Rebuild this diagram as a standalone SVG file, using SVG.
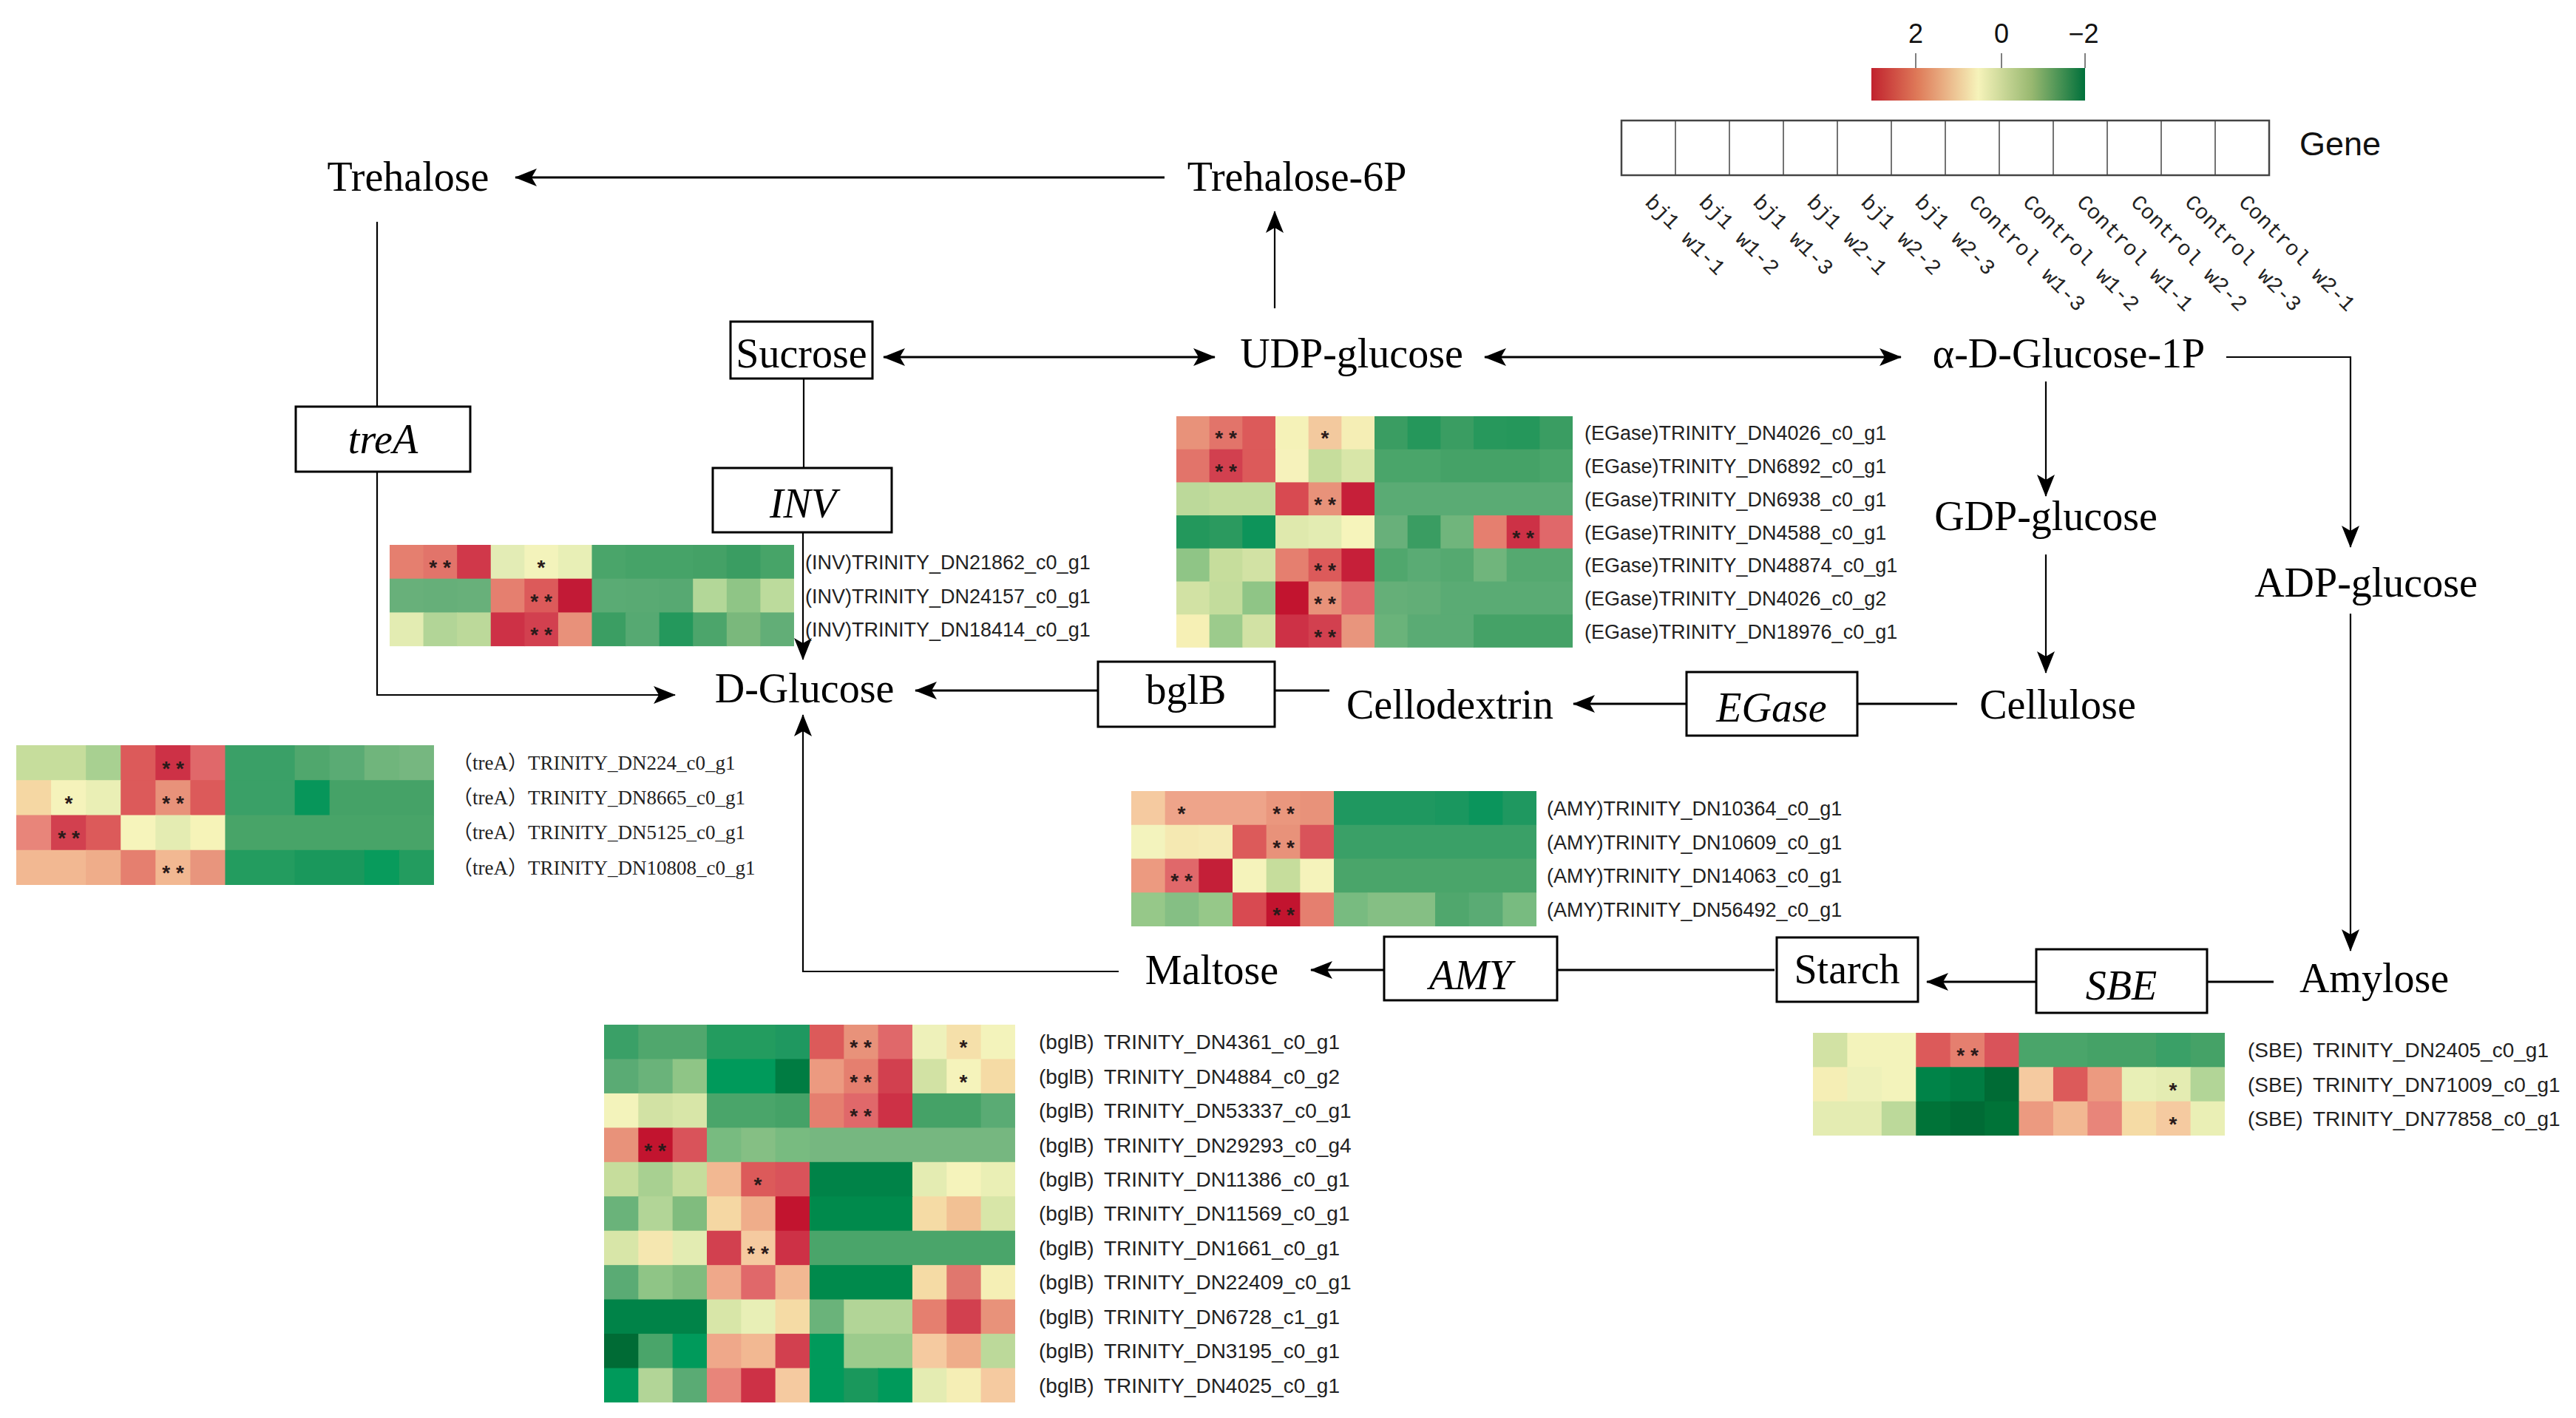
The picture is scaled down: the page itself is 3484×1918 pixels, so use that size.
<svg xmlns="http://www.w3.org/2000/svg" width="3484" height="1918" viewBox="0 0 3484 1918">
<defs>
<style>
.node{font-family:'Liberation Serif','Times New Roman',serif;font-size:56px;fill:#000;text-anchor:middle}
.it{font-style:italic}
.box{fill:#fff;stroke:#000;stroke-width:3}
.lbl{font-family:'Liberation Sans',Arial,sans-serif;font-size:27px;fill:#222}
.lbl28{font-family:'Liberation Sans',Arial,sans-serif;font-size:28px;fill:#222;word-spacing:6px}
.lbls{font-family:'Liberation Serif','Noto Sans CJK SC',serif;font-size:27px;fill:#222}
.st{font-family:'Liberation Sans',Arial,sans-serif;font-size:28px;font-weight:bold;fill:#2a1a1a;text-anchor:middle}
.ln{fill:none;stroke:#000;stroke-width:3}
.lv{fill:none;stroke:#000;stroke-width:2.2}
.mono{font-family:'Liberation Mono','DejaVu Sans Mono',monospace;font-size:29px;fill:#222}
.tick{font-family:'Liberation Sans',Arial,sans-serif;font-size:36px;fill:#111;text-anchor:middle}
</style>
<marker id="ah" viewBox="0 0 30 24" refX="29" refY="12" markerWidth="30" markerHeight="24" markerUnits="userSpaceOnUse" orient="auto-start-reverse"><path d="M0,0 L30,12 L0,24 L7,12 Z" fill="#000"/></marker>
<linearGradient id="cb" x1="0" x2="1" y1="0" y2="0">
<stop offset="0" stop-color="#c1222e"/>
<stop offset="0.22" stop-color="#df7c5a"/>
<stop offset="0.5" stop-color="#f6f3ba"/>
<stop offset="0.75" stop-color="#98b870"/>
<stop offset="1" stop-color="#00703b"/>
</linearGradient>
</defs>
<rect width="3484" height="1918" fill="#fff"/>

<g id="connectors">
<line class="ln" x1="1575" y1="240" x2="697" y2="240" marker-end="url(#ah)"/>
<line class="lv" x1="1724" y1="417" x2="1724" y2="286" marker-end="url(#ah)"/>
<line class="ln" x1="1195" y1="483" x2="1643" y2="483" marker-start="url(#ah)" marker-end="url(#ah)"/>
<line class="ln" x1="2008" y1="483" x2="2571" y2="483" marker-start="url(#ah)" marker-end="url(#ah)"/>
<polyline class="lv" points="3011,483 3179,483 3179,740" marker-end="url(#ah)"/>
<line class="lv" x1="3179" y1="830" x2="3179" y2="1286" marker-end="url(#ah)"/>
<line class="lv" x1="2767" y1="516" x2="2767" y2="671" marker-end="url(#ah)"/>
<line class="lv" x1="2767" y1="750" x2="2767" y2="910" marker-end="url(#ah)"/>
<polyline class="lv" points="510,300 510,940 913,940" marker-end="url(#ah)"/>
<line class="lv" x1="1087" y1="512" x2="1087" y2="634"/>
<line class="lv" x1="1086" y1="720" x2="1086" y2="892" marker-end="url(#ah)"/>
<polyline class="lv" points="1513,1314 1086,1314 1086,967" marker-end="url(#ah)"/>
<line class="ln" x1="1485" y1="934" x2="1238" y2="934" marker-end="url(#ah)"/>
<line class="ln" x1="1798" y1="934" x2="1724" y2="934"/>
<line class="ln" x1="2281" y1="952" x2="2128" y2="952" marker-end="url(#ah)"/>
<line class="ln" x1="2647" y1="952" x2="2512" y2="952"/>
<line class="ln" x1="3075" y1="1328" x2="2985" y2="1328"/>
<line class="ln" x1="2754" y1="1328" x2="2606" y2="1328" marker-end="url(#ah)"/>
<line class="ln" x1="2400" y1="1312" x2="2106" y2="1312"/>
<line class="ln" x1="1872" y1="1312" x2="1773" y2="1312" marker-end="url(#ah)"/>
</g>

<g id="n-trehalose"><text class="node" x="552" y="258">Trehalose</text></g>
<g id="n-trehalose6p"><text class="node" x="1754" y="258">Trehalose-6P</text></g>
<g id="n-sucrose"><rect class="box" x="988" y="435" width="192" height="77"/><text class="node" x="1084" y="497">Sucrose</text></g>
<g id="n-udpglucose"><text class="node" x="1828" y="497">UDP-glucose</text></g>
<g id="n-glucose1p"><text class="node" x="2798" y="497">α-D-Glucose-1P</text></g>
<g id="n-gdpglucose"><text class="node" x="2767" y="717">GDP-glucose</text></g>
<g id="n-adpglucose"><text class="node" x="3200" y="807">ADP-glucose</text></g>
<g id="n-cellulose"><text class="node" x="2783" y="972">Cellulose</text></g>
<g id="n-cellodextrin"><text class="node" x="1961" y="972">Cellodextrin</text></g>
<g id="n-dglucose"><text class="node" x="1088" y="950">D-Glucose</text></g>
<g id="n-maltose"><text class="node" x="1639" y="1331">Maltose</text></g>
<g id="n-amylose"><text class="node" x="3211" y="1342">Amylose</text></g>
<g id="n-starch"><rect class="box" x="2403" y="1268" width="191" height="87"/><text class="node" x="2498" y="1330">Starch</text></g>
<g id="n-trea"><rect class="box" x="400" y="550" width="236" height="88"/><text class="node it" x="518" y="613">treA</text></g>
<g id="n-inv"><rect class="box" x="964" y="633" width="242" height="87"/><text class="node it" x="1086" y="700">INV</text></g>
<g id="n-bglb"><rect class="box" x="1485" y="895" width="239" height="88"/><text class="node" x="1604" y="952">bglB</text></g>
<g id="n-egase"><rect class="box" x="2281" y="909" width="231" height="86"/><text class="node it" x="2396" y="976">EGase</text></g>
<g id="n-amy"><rect class="box" x="1872" y="1267" width="234" height="86"/><text class="node it" x="1989" y="1338">AMY</text></g>
<g id="n-sbe"><rect class="box" x="2754" y="1284" width="231" height="86"/><text class="node it" x="2869" y="1352">SBE</text></g>

<g id="legend">
<rect x="2531" y="92" width="289" height="44" fill="url(#cb)"/>
<line x1="2591" y1="72" x2="2591" y2="92" stroke="#555" stroke-width="1.5"/>
<line x1="2707" y1="72" x2="2707" y2="92" stroke="#555" stroke-width="1.5"/>
<line x1="2820" y1="72" x2="2820" y2="92" stroke="#555" stroke-width="1.5"/>
<text class="tick" x="2591" y="58">2</text>
<text class="tick" x="2707" y="58">0</text>
<text class="tick" x="2818" y="58">−2</text>
<rect x="2193" y="163" width="876" height="74" fill="#fff" stroke="#444" stroke-width="2.5"/>
<g stroke="#444" stroke-width="1.5">
<line x1="2266" y1="163" x2="2266" y2="237"/><line x1="2339" y1="163" x2="2339" y2="237"/><line x1="2412" y1="163" x2="2412" y2="237"/><line x1="2485" y1="163" x2="2485" y2="237"/><line x1="2558" y1="163" x2="2558" y2="237"/><line x1="2631" y1="163" x2="2631" y2="237"/><line x1="2704" y1="163" x2="2704" y2="237"/><line x1="2777" y1="163" x2="2777" y2="237"/><line x1="2850" y1="163" x2="2850" y2="237"/><line x1="2923" y1="163" x2="2923" y2="237"/><line x1="2996" y1="163" x2="2996" y2="237"/>
</g>
<text x="3110" y="210" font-family="'Liberation Sans',Arial,sans-serif" font-size="45" fill="#111">Gene</text>
<text class="mono" transform="translate(2223.5,275) rotate(45)">bj1 w1-1</text>
<text class="mono" transform="translate(2296.5,275) rotate(45)">bj1 w1-2</text>
<text class="mono" transform="translate(2369.5,275) rotate(45)">bj1 w1-3</text>
<text class="mono" transform="translate(2442.5,275) rotate(45)">bj1 w2-1</text>
<text class="mono" transform="translate(2515.5,275) rotate(45)">bj1 w2-2</text>
<text class="mono" transform="translate(2588.5,275) rotate(45)">bj1 w2-3</text>
<text class="mono" transform="translate(2661.5,275) rotate(45)">Control w1-3</text>
<text class="mono" transform="translate(2734.5,275) rotate(45)">Control w1-2</text>
<text class="mono" transform="translate(2807.5,275) rotate(45)">Control w1-1</text>
<text class="mono" transform="translate(2880.5,275) rotate(45)">Control w2-2</text>
<text class="mono" transform="translate(2953.5,275) rotate(45)">Control w2-3</text>
<text class="mono" transform="translate(3026.5,275) rotate(45)">Control w2-1</text>
</g>

<g id="hm-inv">
<g transform="translate(527,737) scale(45.58,45.7)">
<rect x="0" y="0" width="1.02" height="1.02" fill="#e57f6f"/><rect x="1" y="0" width="1.02" height="1.02" fill="#e2746a"/><rect x="2" y="0" width="1.02" height="1.02" fill="#d0384a"/><rect x="3" y="0" width="1.02" height="1.02" fill="#e3ecb5"/><rect x="4" y="0" width="1.02" height="1.02" fill="#f3f3bb"/><rect x="5" y="0" width="1.02" height="1.02" fill="#e8efb6"/><rect x="6" y="0" width="1.02" height="1.02" fill="#4aa56a"/><rect x="7" y="0" width="2.02" height="1.02" fill="#46a368"/><rect x="9" y="0" width="1.02" height="1.02" fill="#44a166"/><rect x="10" y="0" width="1.02" height="1.02" fill="#3a9d62"/><rect x="11" y="0" width="1" height="1.02" fill="#47a468"/>
<rect x="0" y="1" width="1.02" height="1.02" fill="#68b07a"/><rect x="1" y="1" width="1.02" height="1.02" fill="#66af79"/><rect x="2" y="1" width="1.02" height="1.02" fill="#68b07a"/><rect x="3" y="1" width="1.02" height="1.02" fill="#e57f6f"/><rect x="4" y="1" width="1.02" height="1.02" fill="#dc5a5a"/><rect x="5" y="1" width="1.02" height="1.02" fill="#c21a36"/><rect x="6" y="1" width="1.02" height="1.02" fill="#5aab74"/><rect x="7" y="1" width="1.02" height="1.02" fill="#59aa73"/><rect x="8" y="1" width="1.02" height="1.02" fill="#57a972"/><rect x="9" y="1" width="1.02" height="1.02" fill="#b3d798"/><rect x="10" y="1" width="1.02" height="1.02" fill="#8fc586"/><rect x="11" y="1" width="1" height="1.02" fill="#bcdb9c"/>
<rect x="0" y="2" width="1.02" height="1" fill="#e3ecb2"/><rect x="1" y="2" width="1.02" height="1" fill="#b2d597"/><rect x="2" y="2" width="1.02" height="1" fill="#bcd99a"/><rect x="3" y="2" width="1.02" height="1" fill="#cd3146"/><rect x="4" y="2" width="1.02" height="1" fill="#d2404f"/><rect x="5" y="2" width="1.02" height="1" fill="#e8917a"/><rect x="6" y="2" width="1.02" height="1" fill="#3b9e63"/><rect x="7" y="2" width="1.02" height="1" fill="#56a972"/><rect x="8" y="2" width="1.02" height="1" fill="#24985c"/><rect x="9" y="2" width="1.02" height="1" fill="#4ca56b"/><rect x="10" y="2" width="1.02" height="1" fill="#7ab87c"/><rect x="11" y="2" width="1" height="1" fill="#62ae77"/>
</g>
<text class="st" x="595" y="777">* *</text><text class="st" x="732" y="777">*</text><text class="st" x="732" y="823">* *</text><text class="st" x="732" y="868">* *</text>
<text class="lbl" x="1089" y="770">(INV)TRINITY_DN21862_c0_g1</text>
<text class="lbl" x="1089" y="816">(INV)TRINITY_DN24157_c0_g1</text>
<text class="lbl" x="1089" y="861">(INV)TRINITY_DN18414_c0_g1</text>
</g>

<g id="hm-egase">
<g transform="translate(1591,563) scale(44.67,44.7)">
<rect x="0" y="0" width="1.02" height="1.02" fill="#e8927a"/><rect x="1" y="0" width="1.02" height="1.02" fill="#e2746a"/><rect x="2" y="0" width="1.02" height="1.02" fill="#dc5a5a"/><rect x="3" y="0" width="1.02" height="1.02" fill="#f5f2b8"/><rect x="4" y="0" width="1.02" height="1.02" fill="#f3c99e"/><rect x="5" y="0" width="1.02" height="1.02" fill="#f5eeb5"/><rect x="6" y="0" width="1.02" height="1.02" fill="#3a9d62"/><rect x="7" y="0" width="1.02" height="1.02" fill="#25975b"/><rect x="8" y="0" width="1.02" height="1.02" fill="#3a9d62"/><rect x="9" y="0" width="1.02" height="1.02" fill="#27985c"/><rect x="10" y="0" width="1.02" height="1.02" fill="#25975b"/><rect x="11" y="0" width="1" height="1.02" fill="#3a9d62"/>
<rect x="0" y="1" width="1.02" height="1.02" fill="#e2746a"/><rect x="1" y="1" width="1.02" height="1.02" fill="#d2404f"/><rect x="2" y="1" width="1.02" height="1.02" fill="#dc5a5a"/><rect x="3" y="1" width="1.02" height="1.02" fill="#f6f2bb"/><rect x="4" y="1" width="1.02" height="1.02" fill="#c6dd9c"/><rect x="5" y="1" width="1.02" height="1.02" fill="#d8e6a8"/><rect x="6" y="1" width="2.02" height="1.02" fill="#4aa56a"/><rect x="8" y="1" width="3.02" height="1.02" fill="#45a267"/><rect x="11" y="1" width="1" height="1.02" fill="#4aa56a"/>
<rect x="0" y="2" width="1.02" height="1.02" fill="#bcd99a"/><rect x="1" y="2" width="2.02" height="1.02" fill="#c3dc9c"/><rect x="3" y="2" width="1.02" height="1.02" fill="#d84a51"/><rect x="4" y="2" width="1.02" height="1.02" fill="#e8927a"/><rect x="5" y="2" width="1.02" height="1.02" fill="#c61f39"/><rect x="6" y="2" width="6" height="1.02" fill="#5aab74"/>
<rect x="0" y="3" width="1.02" height="1.02" fill="#23985c"/><rect x="1" y="3" width="1.02" height="1.02" fill="#2b9a5f"/><rect x="2" y="3" width="1.02" height="1.02" fill="#0d945a"/><rect x="3" y="3" width="1.02" height="1.02" fill="#dfe9ad"/><rect x="4" y="3" width="1.02" height="1.02" fill="#e3ecb2"/><rect x="5" y="3" width="1.02" height="1.02" fill="#f6f4bb"/><rect x="6" y="3" width="1.02" height="1.02" fill="#68b07a"/><rect x="7" y="3" width="1.02" height="1.02" fill="#3a9d62"/><rect x="8" y="3" width="1.02" height="1.02" fill="#70b57c"/><rect x="9" y="3" width="1.02" height="1.02" fill="#e57f6f"/><rect x="10" y="3" width="1.02" height="1.02" fill="#cd3146"/><rect x="11" y="3" width="1" height="1.02" fill="#e0686a"/>
<rect x="0" y="4" width="1.02" height="1.02" fill="#8fc586"/><rect x="1" y="4" width="1.02" height="1.02" fill="#c6dd9c"/><rect x="2" y="4" width="1.02" height="1.02" fill="#d2e2a4"/><rect x="3" y="4" width="1.02" height="1.02" fill="#e57f6f"/><rect x="4" y="4" width="1.02" height="1.02" fill="#dc5a5a"/><rect x="5" y="4" width="1.02" height="1.02" fill="#c61f39"/><rect x="6" y="4" width="1.02" height="1.02" fill="#50a76d"/><rect x="7" y="4" width="1.02" height="1.02" fill="#5aab74"/><rect x="8" y="4" width="1.02" height="1.02" fill="#55a970"/><rect x="9" y="4" width="1.02" height="1.02" fill="#70b57c"/><rect x="10" y="4" width="2" height="1.02" fill="#55a970"/>
<rect x="0" y="5" width="1.02" height="1.02" fill="#d2e2a4"/><rect x="1" y="5" width="1.02" height="1.02" fill="#c3dc9c"/><rect x="2" y="5" width="1.02" height="1.02" fill="#8fc586"/><rect x="3" y="5" width="1.02" height="1.02" fill="#c2142f"/><rect x="4" y="5" width="1.02" height="1.02" fill="#e8927a"/><rect x="5" y="5" width="1.02" height="1.02" fill="#e0686a"/><rect x="6" y="5" width="1.02" height="1.02" fill="#65af78"/><rect x="7" y="5" width="1.02" height="1.02" fill="#62ae77"/><rect x="8" y="5" width="4" height="1.02" fill="#5aab74"/>
<rect x="0" y="6" width="1.02" height="1" fill="#f6f0b5"/><rect x="1" y="6" width="1.02" height="1" fill="#9ccb8c"/><rect x="2" y="6" width="1.02" height="1" fill="#d2e2a4"/><rect x="3" y="6" width="1.02" height="1" fill="#cd3146"/><rect x="4" y="6" width="1.02" height="1" fill="#d2404f"/><rect x="5" y="6" width="1.02" height="1" fill="#e8957d"/><rect x="6" y="6" width="1.02" height="1" fill="#6ab37a"/><rect x="7" y="6" width="2.02" height="1" fill="#5aab74"/><rect x="9" y="6" width="3" height="1" fill="#45a267"/>
</g>
<text class="st" x="1658" y="602">* *</text><text class="st" x="1792" y="602">*</text><text class="st" x="1658" y="647">* *</text><text class="st" x="1792" y="692">* *</text><text class="st" x="2060" y="737">* *</text><text class="st" x="1792" y="781">* *</text><text class="st" x="1792" y="826">* *</text><text class="st" x="1792" y="871">* *</text>
<text class="lbl" x="2143" y="595">(EGase)TRINITY_DN4026_c0_g1</text>
<text class="lbl" x="2143" y="640">(EGase)TRINITY_DN6892_c0_g1</text>
<text class="lbl" x="2143" y="685">(EGase)TRINITY_DN6938_c0_g1</text>
<text class="lbl" x="2143" y="730">(EGase)TRINITY_DN4588_c0_g1</text>
<text class="lbl" x="2143" y="774">(EGase)TRINITY_DN48874_c0_g1</text>
<text class="lbl" x="2143" y="819">(EGase)TRINITY_DN4026_c0_g2</text>
<text class="lbl" x="2143" y="864">(EGase)TRINITY_DN18976_c0_g1</text>
</g>

<g id="hm-trea">
<g transform="translate(22,1008) scale(47.08,47.25)">
<rect x="0" y="0" width="2.02" height="1.02" fill="#c6dd9c"/><rect x="2" y="0" width="1.02" height="1.02" fill="#a8d091"/><rect x="3" y="0" width="1.02" height="1.02" fill="#dc5a5a"/><rect x="4" y="0" width="1.02" height="1.02" fill="#cd3146"/><rect x="5" y="0" width="1.02" height="1.02" fill="#e0686a"/><rect x="6" y="0" width="2.02" height="1.02" fill="#3aa067"/><rect x="8" y="0" width="1.02" height="1.02" fill="#50a76d"/><rect x="9" y="0" width="1.02" height="1.02" fill="#5aab74"/><rect x="10" y="0" width="1.02" height="1.02" fill="#70b57c"/><rect x="11" y="0" width="1" height="1.02" fill="#76b780"/>
<rect x="0" y="1" width="1.02" height="1.02" fill="#f5d7a3"/><rect x="1" y="1" width="1.02" height="1.02" fill="#f5f3bb"/><rect x="2" y="1" width="1.02" height="1.02" fill="#eaefb5"/><rect x="3" y="1" width="1.02" height="1.02" fill="#dc5a5a"/><rect x="4" y="1" width="1.02" height="1.02" fill="#e8927a"/><rect x="5" y="1" width="1.02" height="1.02" fill="#dc5a5a"/><rect x="6" y="1" width="2.02" height="1.02" fill="#3aa067"/><rect x="8" y="1" width="1.02" height="1.02" fill="#07965a"/><rect x="9" y="1" width="3" height="1.02" fill="#45a267"/>
<rect x="0" y="2" width="1.02" height="1.02" fill="#e8857a"/><rect x="1" y="2" width="1.02" height="1.02" fill="#d2404f"/><rect x="2" y="2" width="1.02" height="1.02" fill="#dc5a5a"/><rect x="3" y="2" width="1.02" height="1.02" fill="#f6f4bb"/><rect x="4" y="2" width="1.02" height="1.02" fill="#e4ecb2"/><rect x="5" y="2" width="1.02" height="1.02" fill="#f6f3b8"/><rect x="6" y="2" width="6" height="1.02" fill="#48a468"/>
<rect x="0" y="3" width="2.02" height="1" fill="#f2b892"/><rect x="2" y="3" width="1.02" height="1" fill="#efad8a"/><rect x="3" y="3" width="1.02" height="1" fill="#e57f6f"/><rect x="4" y="3" width="1.02" height="1" fill="#f2b892"/><rect x="5" y="3" width="1.02" height="1" fill="#e8957d"/><rect x="6" y="3" width="2.02" height="1" fill="#239c5f"/><rect x="8" y="3" width="2.02" height="1" fill="#1a985c"/><rect x="10" y="3" width="1.02" height="1" fill="#089b5c"/><rect x="11" y="3" width="1" height="1" fill="#239c5f"/>
</g>
<text class="st" x="234" y="1049">* *</text><text class="st" x="93" y="1096">*</text><text class="st" x="234" y="1096">* *</text><text class="st" x="93" y="1143">* *</text><text class="st" x="234" y="1190">* *</text>
<text class="lbls" x="612" y="1041">（treA）TRINITY_DN224_c0_g1</text>
<text class="lbls" x="612" y="1088">（treA）TRINITY_DN8665_c0_g1</text>
<text class="lbls" x="612" y="1135">（treA）TRINITY_DN5125_c0_g1</text>
<text class="lbls" x="612" y="1183">（treA）TRINITY_DN10808_c0_g1</text>
</g>

<g id="hm-amy">
<g transform="translate(1530,1070) scale(45.67,45.75)">
<rect x="0" y="0" width="1.02" height="1.02" fill="#f5caa0"/><rect x="1" y="0" width="3.02" height="1.02" fill="#eea48a"/><rect x="4" y="0" width="1.02" height="1.02" fill="#ea977e"/><rect x="5" y="0" width="1.02" height="1.02" fill="#e8927a"/><rect x="6" y="0" width="3.02" height="1.02" fill="#1f9860"/><rect x="9" y="0" width="1.02" height="1.02" fill="#1a975f"/><rect x="10" y="0" width="1.02" height="1.02" fill="#0b955c"/><rect x="11" y="0" width="1" height="1.02" fill="#1f9860"/>
<rect x="0" y="1" width="1.02" height="1.02" fill="#f3f3bd"/><rect x="1" y="1" width="1.02" height="1.02" fill="#f5e9b2"/><rect x="2" y="1" width="1.02" height="1.02" fill="#f5ebb5"/><rect x="3" y="1" width="1.02" height="1.02" fill="#dc5a5a"/><rect x="4" y="1" width="1.02" height="1.02" fill="#e8927a"/><rect x="5" y="1" width="1.02" height="1.02" fill="#d9535a"/><rect x="6" y="1" width="6" height="1.02" fill="#3aa067"/>
<rect x="0" y="2" width="1.02" height="1.02" fill="#ec9a80"/><rect x="1" y="2" width="1.02" height="1.02" fill="#e0686a"/><rect x="2" y="2" width="1.02" height="1.02" fill="#c41f38"/><rect x="3" y="2" width="1.02" height="1.02" fill="#f5f3bb"/><rect x="4" y="2" width="1.02" height="1.02" fill="#c6dd9c"/><rect x="5" y="2" width="1.02" height="1.02" fill="#f5f3bb"/><rect x="6" y="2" width="6" height="1.02" fill="#4aa56a"/>
<rect x="0" y="3" width="1.02" height="1" fill="#96c889"/><rect x="1" y="3" width="1.02" height="1" fill="#85bf84"/><rect x="2" y="3" width="1.02" height="1" fill="#96c889"/><rect x="3" y="3" width="1.02" height="1" fill="#d84a51"/><rect x="4" y="3" width="1.02" height="1" fill="#c2142f"/><rect x="5" y="3" width="1.02" height="1" fill="#e57f6f"/><rect x="6" y="3" width="1.02" height="1" fill="#78bb80"/><rect x="7" y="3" width="2.02" height="1" fill="#85bf84"/><rect x="9" y="3" width="1.02" height="1" fill="#50a76d"/><rect x="10" y="3" width="1.02" height="1" fill="#5aab74"/><rect x="11" y="3" width="1" height="1" fill="#78bb80"/>
</g>
<text class="st" x="1598" y="1110">*</text><text class="st" x="1736" y="1110">* *</text><text class="st" x="1736" y="1156">* *</text><text class="st" x="1598" y="1201">* *</text><text class="st" x="1736" y="1247">* *</text>
<text class="lbl" x="2092" y="1103">(AMY)TRINITY_DN10364_c0_g1</text>
<text class="lbl" x="2092" y="1149">(AMY)TRINITY_DN10609_c0_g1</text>
<text class="lbl" x="2092" y="1194">(AMY)TRINITY_DN14063_c0_g1</text>
<text class="lbl" x="2092" y="1240">(AMY)TRINITY_DN56492_c0_g1</text>
</g>

<g id="hm-bglb">
<g transform="translate(817,1386) scale(46.33,46.45)">
<rect x="0" y="0" width="1.02" height="1.02" fill="#3aa067"/><rect x="1" y="0" width="2.02" height="1.02" fill="#50a76d"/><rect x="3" y="0" width="2.02" height="1.02" fill="#239c5f"/><rect x="5" y="0" width="1.02" height="1.02" fill="#1f9860"/><rect x="6" y="0" width="1.02" height="1.02" fill="#dc5a5a"/><rect x="7" y="0" width="1.02" height="1.02" fill="#e8927a"/><rect x="8" y="0" width="1.02" height="1.02" fill="#e0686a"/><rect x="9" y="0" width="1.02" height="1.02" fill="#eef1ba"/><rect x="10" y="0" width="1.02" height="1.02" fill="#f5e0aa"/><rect x="11" y="0" width="1" height="1.02" fill="#f3f3bb"/>
<rect x="0" y="1" width="1.02" height="1.02" fill="#5aab74"/><rect x="1" y="1" width="1.02" height="1.02" fill="#6ab37a"/><rect x="2" y="1" width="1.02" height="1.02" fill="#8fc586"/><rect x="3" y="1" width="2.02" height="1.02" fill="#009a5b"/><rect x="5" y="1" width="1.02" height="1.02" fill="#007c42"/><rect x="6" y="1" width="1.02" height="1.02" fill="#ec9a80"/><rect x="7" y="1" width="1.02" height="1.02" fill="#e57f6f"/><rect x="8" y="1" width="1.02" height="1.02" fill="#d2404f"/><rect x="9" y="1" width="1.02" height="1.02" fill="#d2e2a4"/><rect x="10" y="1" width="1.02" height="1.02" fill="#f5f3bb"/><rect x="11" y="1" width="1" height="1.02" fill="#f5dba5"/>
<rect x="0" y="2" width="1.02" height="1.02" fill="#f3f3bb"/><rect x="1" y="2" width="1.02" height="1.02" fill="#d2e2a4"/><rect x="2" y="2" width="1.02" height="1.02" fill="#d8e6a8"/><rect x="3" y="2" width="2.02" height="1.02" fill="#4aa56a"/><rect x="5" y="2" width="1.02" height="1.02" fill="#45a267"/><rect x="6" y="2" width="1.02" height="1.02" fill="#e57f6f"/><rect x="7" y="2" width="1.02" height="1.02" fill="#e0686a"/><rect x="8" y="2" width="1.02" height="1.02" fill="#cd3146"/><rect x="9" y="2" width="2.02" height="1.02" fill="#45a267"/><rect x="11" y="2" width="1" height="1.02" fill="#5aab74"/>
<rect x="0" y="3" width="1.02" height="1.02" fill="#e8927a"/><rect x="1" y="3" width="1.02" height="1.02" fill="#c2142f"/><rect x="2" y="3" width="1.02" height="1.02" fill="#d9535a"/><rect x="3" y="3" width="1.02" height="1.02" fill="#78bb80"/><rect x="4" y="3" width="1.02" height="1.02" fill="#85bf84"/><rect x="5" y="3" width="1.02" height="1.02" fill="#78bb80"/><rect x="6" y="3" width="6" height="1.02" fill="#76b780"/>
<rect x="0" y="4" width="1.02" height="1.02" fill="#c6dd9c"/><rect x="1" y="4" width="1.02" height="1.02" fill="#a8d091"/><rect x="2" y="4" width="1.02" height="1.02" fill="#c6dd9c"/><rect x="3" y="4" width="1.02" height="1.02" fill="#f2b892"/><rect x="4" y="4" width="1.02" height="1.02" fill="#dc5a5a"/><rect x="5" y="4" width="1.02" height="1.02" fill="#d9535a"/><rect x="6" y="4" width="3.02" height="1.02" fill="#008348"/><rect x="9" y="4" width="1.02" height="1.02" fill="#e4ecb2"/><rect x="10" y="4" width="1.02" height="1.02" fill="#f5f3bb"/><rect x="11" y="4" width="1" height="1.02" fill="#eaefb5"/>
<rect x="0" y="5" width="1.02" height="1.02" fill="#6ab37a"/><rect x="1" y="5" width="1.02" height="1.02" fill="#b2d597"/><rect x="2" y="5" width="1.02" height="1.02" fill="#80bc7e"/><rect x="3" y="5" width="1.02" height="1.02" fill="#f5d7a3"/><rect x="4" y="5" width="1.02" height="1.02" fill="#efad8a"/><rect x="5" y="5" width="1.02" height="1.02" fill="#c2142f"/><rect x="6" y="5" width="3.02" height="1.02" fill="#008a4c"/><rect x="9" y="5" width="1.02" height="1.02" fill="#f5dba5"/><rect x="10" y="5" width="1.02" height="1.02" fill="#f2c194"/><rect x="11" y="5" width="1" height="1.02" fill="#d8e6a8"/>
<rect x="0" y="6" width="1.02" height="1.02" fill="#d8e6a8"/><rect x="1" y="6" width="1.02" height="1.02" fill="#f5e7b0"/><rect x="2" y="6" width="1.02" height="1.02" fill="#e3ecb2"/><rect x="3" y="6" width="1.02" height="1.02" fill="#d2404f"/><rect x="4" y="6" width="1.02" height="1.02" fill="#f5caa0"/><rect x="5" y="6" width="1.02" height="1.02" fill="#cd3146"/><rect x="6" y="6" width="6" height="1.02" fill="#4aa56a"/>
<rect x="0" y="7" width="1.02" height="1.02" fill="#5aab74"/><rect x="1" y="7" width="1.02" height="1.02" fill="#8fc586"/><rect x="2" y="7" width="1.02" height="1.02" fill="#80bc7e"/><rect x="3" y="7" width="1.02" height="1.02" fill="#efa88a"/><rect x="4" y="7" width="1.02" height="1.02" fill="#e0686a"/><rect x="5" y="7" width="1.02" height="1.02" fill="#f2b892"/><rect x="6" y="7" width="3.02" height="1.02" fill="#008a4c"/><rect x="9" y="7" width="1.02" height="1.02" fill="#f5dba5"/><rect x="10" y="7" width="1.02" height="1.02" fill="#e0776e"/><rect x="11" y="7" width="1" height="1.02" fill="#f5efb5"/>
<rect x="0" y="8" width="3.02" height="1.02" fill="#008348"/><rect x="3" y="8" width="1.02" height="1.02" fill="#d8e6a8"/><rect x="4" y="8" width="1.02" height="1.02" fill="#e8efb6"/><rect x="5" y="8" width="1.02" height="1.02" fill="#f5dba5"/><rect x="6" y="8" width="1.02" height="1.02" fill="#6ab37a"/><rect x="7" y="8" width="2.02" height="1.02" fill="#b2d597"/><rect x="9" y="8" width="1.02" height="1.02" fill="#e57f6f"/><rect x="10" y="8" width="1.02" height="1.02" fill="#d2404f"/><rect x="11" y="8" width="1" height="1.02" fill="#e8927a"/>
<rect x="0" y="9" width="1.02" height="1.02" fill="#006b35"/><rect x="1" y="9" width="1.02" height="1.02" fill="#4aa56a"/><rect x="2" y="9" width="1.02" height="1.02" fill="#009a5b"/><rect x="3" y="9" width="1.02" height="1.02" fill="#efa88a"/><rect x="4" y="9" width="1.02" height="1.02" fill="#f2b892"/><rect x="5" y="9" width="1.02" height="1.02" fill="#d2404f"/><rect x="6" y="9" width="1.02" height="1.02" fill="#009a5b"/><rect x="7" y="9" width="2.02" height="1.02" fill="#9ccb8c"/><rect x="9" y="9" width="1.02" height="1.02" fill="#f5caa0"/><rect x="10" y="9" width="1.02" height="1.02" fill="#efad8a"/><rect x="11" y="9" width="1" height="1.02" fill="#bcd99a"/>
<rect x="0" y="10" width="1.02" height="1" fill="#009a5b"/><rect x="1" y="10" width="1.02" height="1" fill="#b2d597"/><rect x="2" y="10" width="1.02" height="1" fill="#5aab74"/><rect x="3" y="10" width="1.02" height="1" fill="#e8857a"/><rect x="4" y="10" width="1.02" height="1" fill="#cd3146"/><rect x="5" y="10" width="1.02" height="1" fill="#f5caa0"/><rect x="6" y="10" width="1.02" height="1" fill="#009a5b"/><rect x="7" y="10" width="1.02" height="1" fill="#1a985c"/><rect x="8" y="10" width="1.02" height="1" fill="#009a5b"/><rect x="9" y="10" width="1.02" height="1" fill="#e4ecb2"/><rect x="10" y="10" width="1.02" height="1" fill="#f5eeb5"/><rect x="11" y="10" width="1" height="1" fill="#f5caa0"/>
</g>
<text class="st" x="1164" y="1426">* *</text><text class="st" x="1303" y="1426">*</text><text class="st" x="1164" y="1473">* *</text><text class="st" x="1303" y="1473">*</text><text class="st" x="1164" y="1519">* *</text><text class="st" x="886" y="1566">* *</text><text class="st" x="1025" y="1612">*</text><text class="st" x="1025" y="1705">* *</text>
<text class="lbl28" x="1405" y="1419">(bglB) TRINITY_DN4361_c0_g1</text>
<text class="lbl28" x="1405" y="1466">(bglB) TRINITY_DN4884_c0_g2</text>
<text class="lbl28" x="1405" y="1512">(bglB) TRINITY_DN53337_c0_g1</text>
<text class="lbl28" x="1405" y="1559">(bglB) TRINITY_DN29293_c0_g4</text>
<text class="lbl28" x="1405" y="1605">(bglB) TRINITY_DN11386_c0_g1</text>
<text class="lbl28" x="1405" y="1651">(bglB) TRINITY_DN11569_c0_g1</text>
<text class="lbl28" x="1405" y="1698">(bglB) TRINITY_DN1661_c0_g1</text>
<text class="lbl28" x="1405" y="1744">(bglB) TRINITY_DN22409_c0_g1</text>
<text class="lbl28" x="1405" y="1791">(bglB) TRINITY_DN6728_c1_g1</text>
<text class="lbl28" x="1405" y="1837">(bglB) TRINITY_DN3195_c0_g1</text>
<text class="lbl28" x="1405" y="1884">(bglB) TRINITY_DN4025_c0_g1</text>
</g>

<g id="hm-sbe">
<g transform="translate(2452,1397) scale(46.42,46.33)">
<rect x="0" y="0" width="1.02" height="1.02" fill="#d2e2a4"/><rect x="1" y="0" width="2.02" height="1.02" fill="#f3f3bb"/><rect x="3" y="0" width="1.02" height="1.02" fill="#dc5a5a"/><rect x="4" y="0" width="1.02" height="1.02" fill="#e57f6f"/><rect x="5" y="0" width="1.02" height="1.02" fill="#d9535a"/><rect x="6" y="0" width="2.02" height="1.02" fill="#4aa56a"/><rect x="8" y="0" width="2.02" height="1.02" fill="#45a267"/><rect x="10" y="0" width="1.02" height="1.02" fill="#3aa067"/><rect x="11" y="0" width="1" height="1.02" fill="#45a267"/>
<rect x="0" y="1" width="1.02" height="1.02" fill="#f5eeb5"/><rect x="1" y="1" width="1.02" height="1.02" fill="#eef1ba"/><rect x="2" y="1" width="1.02" height="1.02" fill="#f3f3bb"/><rect x="3" y="1" width="1.02" height="1.02" fill="#008348"/><rect x="4" y="1" width="1.02" height="1.02" fill="#007c42"/><rect x="5" y="1" width="1.02" height="1.02" fill="#006b35"/><rect x="6" y="1" width="1.02" height="1.02" fill="#f5caa0"/><rect x="7" y="1" width="1.02" height="1.02" fill="#dc5a5a"/><rect x="8" y="1" width="1.02" height="1.02" fill="#ec9a80"/><rect x="9" y="1" width="1.02" height="1.02" fill="#e8efb6"/><rect x="10" y="1" width="1.02" height="1.02" fill="#e4ecb2"/><rect x="11" y="1" width="1" height="1.02" fill="#b2d597"/>
<rect x="0" y="2" width="2.02" height="1" fill="#e4ecb2"/><rect x="2" y="2" width="1.02" height="1" fill="#bcd99a"/><rect x="3" y="2" width="1.02" height="1" fill="#007338"/><rect x="4" y="2" width="1.02" height="1" fill="#006b35"/><rect x="5" y="2" width="1.02" height="1" fill="#007338"/><rect x="6" y="2" width="1.02" height="1" fill="#ec9a80"/><rect x="7" y="2" width="1.02" height="1" fill="#f2b892"/><rect x="8" y="2" width="1.02" height="1" fill="#e8857a"/><rect x="9" y="2" width="1.02" height="1" fill="#f5dba5"/><rect x="10" y="2" width="1.02" height="1" fill="#f5caa0"/><rect x="11" y="2" width="1" height="1" fill="#eaefb5"/>
</g>
<text class="st" x="2661" y="1437">* *</text><text class="st" x="2939" y="1484">*</text><text class="st" x="2939" y="1530">*</text>
<text class="lbl28" x="3040" y="1430">(SBE) TRINITY_DN2405_c0_g1</text>
<text class="lbl28" x="3040" y="1477">(SBE) TRINITY_DN71009_c0_g1</text>
<text class="lbl28" x="3040" y="1523">(SBE) TRINITY_DN77858_c0_g1</text>
</g>
</svg>
